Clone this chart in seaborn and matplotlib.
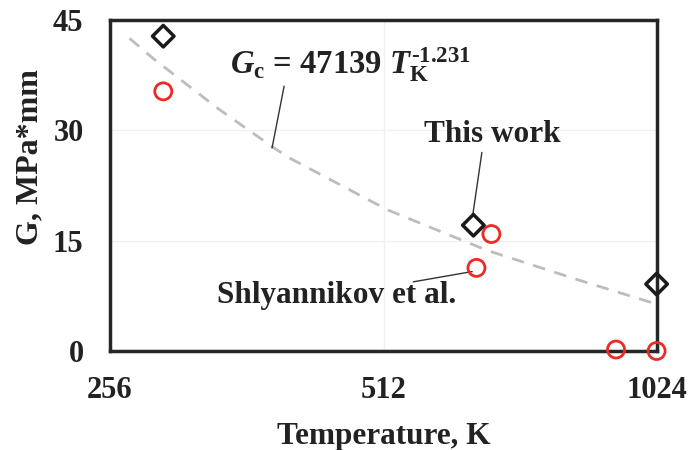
import matplotlib
matplotlib.use("Agg")
import matplotlib.pyplot as plt
import seaborn as sns
import pandas as pd

# Measured fracture energy, this work
this_work_T = [293, 643, 1023]
this_work_G = [42.8, 17.1, 9.1]

# Literature values (Shlyannikov et al.)
shly_T = [293, 673, 648, 923, 1023]
shly_G = [35.3, 15.9, 11.3, 0.2, 0.0]

# Trend curve through the data
trend_T = [269, 286, 338, 387, 404, 517, 665, 842, 1040]
trend_G = [42.5, 39.7, 32.8, 27.7, 26.2, 19.2, 13.7, 9.6, 6.1]

x_ticks = [256, 512, 1024]
y_ticks = [0, 15, 30, 45]

sns.set_theme(style="white")
plt.rcParams["font.family"] = ["Liberation Serif", "DejaVu Serif"]
plt.rcParams["font.weight"] = "bold"
plt.rcParams["mathtext.fontset"] = "custom"
plt.rcParams["mathtext.rm"] = "Liberation Serif:bold"
plt.rcParams["mathtext.it"] = "Liberation Serif:bold:italic"
plt.rcParams["mathtext.bf"] = "Liberation Serif:bold"

TXT = "#222222"
LEADER = dict(arrowstyle="-", color="#333333", lw=1, shrinkA=0, shrinkB=0)

fig = plt.figure(figsize=(6.88, 4.5), dpi=100)
ax = fig.add_axes([110 / 688, 1 - 351 / 450, (657 - 110) / 688, (351 - 20) / 450])

ax.set_xscale("log", base=2)
ax.set_xlim(256, 1024)
ax.set_ylim(0, 45)

# faint grid
for yv in [15, 30]:
    ax.axhline(yv, color="#f0f0f0", lw=1, zorder=0)
ax.axvline(512, color="#f0f0f0", lw=1, zorder=0)

trend = pd.DataFrame({"T": trend_T, "G": trend_G})
sns.lineplot(data=trend, x="T", y="G", ax=ax, sort=False, estimator=None,
             color="#bdbdbd", lw=2, dashes=False, linestyle=(0, (4.5, 3.5)), zorder=2)

tw = pd.DataFrame({"T": this_work_T, "G": this_work_G})
sh = pd.DataFrame({"T": shly_T, "G": shly_G})
sns.scatterplot(data=sh, x="T", y="G", ax=ax, marker="o", s=150,
                facecolor="none", edgecolor="#ee2a24", linewidth=2, zorder=4, clip_on=False)
sns.scatterplot(data=tw, x="T", y="G", ax=ax, marker="D", s=120,
                facecolor="none", edgecolor="#1a1a1a", linewidth=2.5, zorder=5, clip_on=False)

for sp in ax.spines.values():
    sp.set_visible(True)
    sp.set_color("#262626")
    sp.set_linewidth(2.5)

ax.set_xticks(x_ticks)
ax.set_xticklabels([str(t) for t in x_ticks])
ax.minorticks_off()
ax.set_yticks(y_ticks)
ax.tick_params(axis="both", which="major", direction="out", length=7, width=1,
               color="#c0c0c0", labelsize=22, labelcolor=TXT)
ax.tick_params(axis="y", pad=12)
ax.tick_params(axis="x", pad=11)

ax.set_xlabel("Temperature, K", fontsize=22.5, color=TXT, fontweight="bold")
ax.set_ylabel("G, MPa*mm", fontsize=23, color=TXT, fontweight="bold")
ax.xaxis.set_label_coords(0.5, -0.215)
ax.yaxis.set_label_coords(-0.12, 0.585)

# fitted-law label
ax.text(471, 38.9,
        "$\\mathit{G}_{\\mathrm{c}}$ = 47139 $\\mathit{T}_{\\mathrm{K}}^{\\mathrm{\u2010}\\mathrm{1.231}}$",
        fontsize=23.5, color=TXT, ha="center", va="center")
ax.annotate("", xy=(386, 27.6), xytext=(398, 36.0), arrowprops=LEADER)

# series labels with leader lines
ax.text(674, 29.4, "This work", fontsize=22.5, color=TXT, ha="center", va="center")
ax.annotate("", xy=(642, 18.5), xytext=(657, 27.0), arrowprops=LEADER)

ax.text(455, 7.5, "Shlyannikov et al.", fontsize=22.5, color=TXT, ha="center", va="center")
ax.annotate("", xy=(641, 10.8), xytext=(552, 9.4), arrowprops=LEADER)

ax.set_facecolor("white")
fig.savefig("out.png", dpi=100, facecolor="white")
